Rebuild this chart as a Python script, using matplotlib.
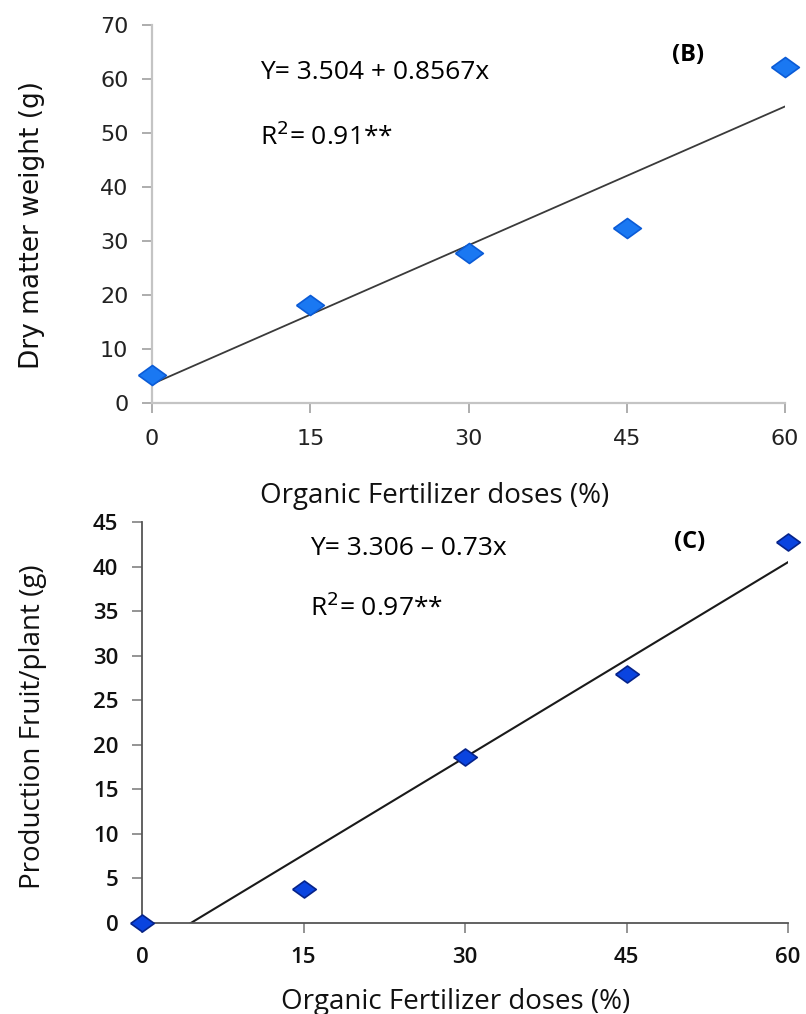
import numpy as np
import matplotlib
matplotlib.use('Agg')
import matplotlib.pyplot as plt

# Panel B: dry matter weight
doses = [0, 15, 30, 45, 60]
dry_weight = [5.2, 18.1, 27.8, 32.4, 62.2]
b_intercept, b_slope = 3.504, 0.8567

# Panel C: fruit production per plant
fruit_prod = [0.0, 3.8, 18.6, 28.0, 42.8]
c_intercept, c_slope = -3.306, 0.73

b_ticks_y = [0, 10, 20, 30, 40, 50, 60, 70]
c_ticks_y = [0, 5, 10, 15, 20, 25, 30, 35, 40, 45]

# flattened diamond like the Excel marker
diamond = [(-1, 0), (0, 0.72), (1, 0), (0, -0.72), (-1, 0)]
label_font = 'Open Sans'

fig = plt.figure(figsize=(8.06, 10.14), dpi=100)

# ---------- panel B ----------
ax1 = fig.add_axes([0.1886, 0.6026, 0.7854, 0.3728])
x_fit = np.linspace(0, 60, 50)
ax1.plot(x_fit, b_intercept + b_slope * x_fit, color='#3a3a3a', lw=1.3, zorder=2)
ax1.plot(doses, dry_weight, linestyle='none', marker=diamond, ms=20,
         mfc='#1a78f2', mec='#0b5bd6', mew=1.2, clip_on=False, zorder=3)
ax1.set_xlim(0, 60)
ax1.set_ylim(0, 70)
ax1.set_xticks(doses)
ax1.set_yticks(b_ticks_y)
for s in ['top', 'right']:
    ax1.spines[s].set_visible(False)
for s in ['left', 'bottom']:
    ax1.spines[s].set_color('#c4c4c4')
    ax1.spines[s].set_linewidth(1.6)
ax1.tick_params(axis='both', colors='#a0a0a0', length=7, width=1.2,
                labelcolor='#222222', labelsize=16)
ax1.tick_params(axis='x', pad=12)
ax1.tick_params(axis='y', pad=10)
ax1.set_ylabel('Dry matter weight (g)', fontsize=19, family='DejaVu Sans',
               color='#111111')
ax1.yaxis.set_label_coords(-0.169, 0.47)
ax1.set_xlabel('Organic Fertilizer doses (%)', fontsize=20, family=label_font,
               color='#111111')
ax1.xaxis.set_label_coords(0.447, -0.209)
ax1.text(0.171, 0.873, 'Y= 3.504 + 0.8567x', transform=ax1.transAxes,
         fontsize=19, family=label_font, va='center', ha='left')
ax1.text(0.171, 0.704, r'R$^{2}$= 0.91**', transform=ax1.transAxes,
         fontsize=19, family=label_font, va='center', ha='left')
ax1.text(0.847, 0.921, '(B)', transform=ax1.transAxes, fontsize=17,
         family=label_font, weight='bold', va='center', ha='center')

# ---------- panel C ----------
ax2 = fig.add_axes([0.1762, 0.0897, 0.8015, 0.3955])
x0 = -c_intercept / c_slope
x_fit2 = np.linspace(x0, 60, 50)
ax2.plot(x_fit2, c_intercept + c_slope * x_fit2, color='#1a1a1a', lw=1.5, zorder=2)
ax2.plot(doses, fruit_prod, linestyle='none', marker=diamond, ms=17,
         mfc='#0a44e0', mec='#06238a', mew=1.2, clip_on=False, zorder=3)
ax2.set_xlim(0, 60)
ax2.set_ylim(0, 45)
ax2.set_xticks(doses)
ax2.set_yticks(c_ticks_y)
for s in ['top', 'right']:
    ax2.spines[s].set_visible(False)
for s in ['left', 'bottom']:
    ax2.spines[s].set_color('#555555')
    ax2.spines[s].set_linewidth(1.3)
ax2.tick_params(axis='both', colors='#777777', length=7, width=1.1,
                labelcolor='#111111', labelsize=16)
ax2.tick_params(axis='x', pad=10)
ax2.tick_params(axis='y', pad=10)
for lab in ax2.get_xticklabels() + ax2.get_yticklabels():
    lab.set_family(label_font)
    lab.set_weight('semibold')
ax2.set_ylabel('Production Fruit/plant (g)', fontsize=20, family=label_font,
               color='#111111')
ax2.yaxis.set_label_coords(-0.147, 0.49)
ax2.set_xlabel('Organic Fertilizer doses (%)', fontsize=20, family=label_font,
               color='#111111')
ax2.xaxis.set_label_coords(0.485, -0.162)
ax2.text(0.26, 0.935, 'Y= 3.306 \u2013 0.73x', transform=ax2.transAxes,
         fontsize=19, family=label_font, va='center', ha='left')
ax2.text(0.26, 0.786, r'R$^{2}$= 0.97**', transform=ax2.transAxes,
         fontsize=19, family=label_font, va='center', ha='left')
ax2.text(0.848, 0.950, '(C)', transform=ax2.transAxes, fontsize=17,
         family=label_font, weight='bold', va='center', ha='center')

fig.savefig('out.png', dpi=100)
plt.close(fig)
